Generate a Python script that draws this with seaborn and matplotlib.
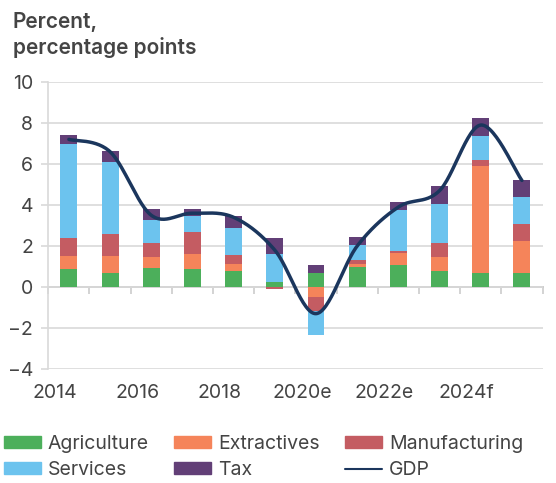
import matplotlib.pyplot as plt
import matplotlib.patches as mpatches
import matplotlib.lines as mlines
import matplotlib.transforms as mtransforms
import numpy as np
import pandas as pd
import seaborn as sns

years = ["2014", "2015", "2016", "2017", "2018", "2019",
         "2020e", "2021e", "2022e", "2023e", "2024f", "2025f"]
agriculture = [0.90, 0.70, 0.95, 0.90, 0.76, 0.26, 0.70, 0.99, 1.08, 0.79, 0.66, 0.66]
extractives = [0.60, 0.80, 0.50, 0.69, 0.34, 0.00, -0.50, 0.11, 0.60, 0.68, 5.23, 1.59]
manufacturing = [0.90, 1.10, 0.68, 1.07, 0.48, -0.10, -0.68, 0.23, 0.08, 0.68, 0.29, 0.82]
services = [4.60, 3.50, 1.16, 0.78, 1.32, 1.37, -1.14, 0.74, 2.01, 1.89, 1.18, 1.31]
tax = [0.40, 0.55, 0.52, 0.37, 0.56, 0.78, 0.38, 0.37, 0.37, 0.88, 0.86, 0.83]
gdp = [7.2, 6.6, 3.5, 3.6, 3.4, 1.8, -1.3, 2.0, 3.9, 4.7, 7.9, 5.2]
tick_labels = ["2014", "2016", "2018", "2020e", "2022e", "2024f"]

colors = {
    "Agriculture": "#4caf5b",
    "Extractives": "#f5845a",
    "Manufacturing": "#c45c62",
    "Services": "#6cc3ee",
    "Tax": "#623f77",
}
gdp_color = "#1b365d"
text_color = "#444444"
grid_color = "#d9d9d9"

sns.set_theme(style="white")
plt.rcParams["font.family"] = ["Inter", "DejaVu Sans"]
plt.rcParams["text.color"] = text_color

fig = plt.figure(figsize=(5.56, 4.83), dpi=100)
ax = fig.add_axes([48.3 / 556, 114 / 483, 494.2 / 556, 287 / 483])

x = np.arange(len(years))
series = {
    "Agriculture": agriculture,
    "Extractives": extractives,
    "Manufacturing": manufacturing,
    "Services": services,
    "Tax": tax,
}
pos_base = np.zeros(len(years))
neg_base = np.zeros(len(years))
for name, vals in series.items():
    v = np.array(vals)
    base = np.where(v >= 0, pos_base, neg_base)
    ax.bar(x, v, bottom=base, width=0.41, color=colors[name], linewidth=0, zorder=3)
    pos_base = pos_base + np.clip(v, 0, None)
    neg_base = neg_base + np.clip(v, None, 0)

# smoothed GDP line (Catmull-Rom style, like a spreadsheet "smoothed line")
g = np.array(gdp, dtype=float)
xs, ys = [], []
for i in range(len(g) - 1):
    p0 = g[i - 1] if i > 0 else g[i]
    p3 = g[i + 2] if i + 2 < len(g) else g[i + 1]
    p1, p2 = g[i], g[i + 1]
    x0 = x[i - 1] if i > 0 else x[i]
    x3 = x[i + 2] if i + 2 < len(g) else x[i + 1]
    c1y = p1 + (p2 - p0) / 6
    c2y = p2 - (p3 - p1) / 6
    c1x = x[i] + (x[i + 1] - x0) / 6
    c2x = x[i + 1] - (x3 - x[i]) / 6
    t = np.linspace(0, 1, 30)
    bx = (1 - t) ** 3 * x[i] + 3 * (1 - t) ** 2 * t * c1x + 3 * (1 - t) * t ** 2 * c2x + t ** 3 * x[i + 1]
    by = (1 - t) ** 3 * p1 + 3 * (1 - t) ** 2 * t * c1y + 3 * (1 - t) * t ** 2 * c2y + t ** 3 * p2
    xs.extend(bx)
    ys.extend(by)
curve = pd.DataFrame({"x": xs, "y": ys})
sns.lineplot(data=curve, x="x", y="y", ax=ax, color=gdp_color, linewidth=2.5,
             sort=False, estimator=None, zorder=4)

ax.set_xlim(-0.5, len(years) - 0.5)
ax.set_ylim(-4, 10)
ax.set_yticks(range(-4, 11, 2))
ax.yaxis.grid(True, color=grid_color, linewidth=1.2, zorder=0)
ax.set_xlabel("")
ax.set_ylabel("")

ax.set_xticks(x[::2])
ax.set_xticklabels(tick_labels)
ax.tick_params(axis="x", length=0, pad=11, labelsize=14, labelcolor=text_color)
ax.tick_params(axis="y", length=5, width=1.2, color=grid_color, pad=6,
               labelsize=14, labelcolor=text_color, left=True)
# labels in the reference sit a little left of their bars
shift = mtransforms.ScaledTranslation(-14 / 100, 0, fig.dpi_scale_trans)
for lab in ax.get_xticklabels():
    lab.set_transform(lab.get_transform() + shift)

for s in ["top", "right", "bottom"]:
    ax.spines[s].set_visible(False)
ax.spines["left"].set_color(grid_color)
ax.spines["left"].set_linewidth(1.2)

# zero line with category separators
zero_frac = (0 - (-4)) / (10 - (-4))
sec = ax.secondary_xaxis(zero_frac)
sec.set_xticks(np.arange(-0.5, len(years), 1.0))
sec.tick_params(axis="x", length=5, width=1.2, color="#cccccc", labelbottom=False,
                labeltop=False, direction="out", bottom=True, top=False)
sec.xaxis.set_ticks_position("bottom")
sec.spines["bottom"].set_color("#cccccc")
sec.spines["bottom"].set_linewidth(1.4)
sec.spines["top"].set_visible(False)
sec.set_xticklabels([])

fig.text(13 / 556, 1 - 12 / 483, "Percent,\npercentage points", fontsize=15,
         fontweight="semibold", va="top", ha="left", linespacing=1.3, color=text_color)

h = lambda n: mpatches.Patch(color=colors[n], label=n)
handles = [h("Agriculture"), h("Services"), h("Extractives"), h("Tax"),
           h("Manufacturing"),
           mlines.Line2D([], [], color=gdp_color, linewidth=1.5, label="GDP")]
fig.legend(handles=handles, ncol=3, loc="upper left",
           bbox_to_anchor=(0 / 556, 1 - 431 / 483), frameon=False, fontsize=14,
           handlelength=1.9, handleheight=0.55, handletextpad=0.36,
           columnspacing=1.3, labelspacing=0.42, borderaxespad=0, borderpad=0.2,
           labelcolor=text_color)

fig.savefig("out.png", dpi=100)
